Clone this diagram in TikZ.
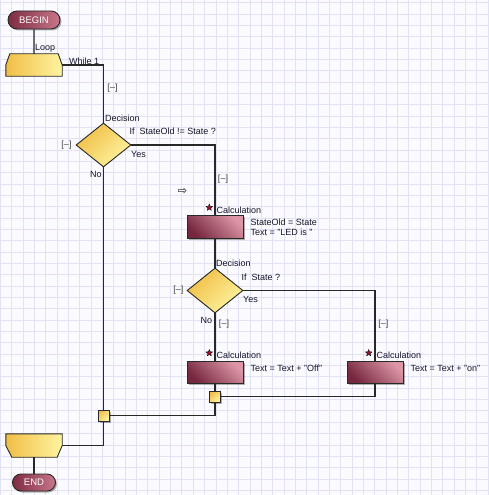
\documentclass[tikz,border=0pt]{standalone}
\usepackage{fontspec}
\setmainfont{Liberation Sans}
\newfontfamily\symfont{DejaVu Sans}
\usetikzlibrary{shapes.geometric,shapes.misc,shadows}
\definecolor{gridc}{RGB}{226,226,246}
\definecolor{paper}{RGB}{251,251,255}
\definecolor{wire}{RGB}{40,40,40}
\definecolor{txt}{RGB}{20,20,40}
\definecolor{calcdark}{RGB}{118,38,62}
\definecolor{calclight}{RGB}{220,150,166}
\definecolor{yeldark}{RGB}{240,190,70}
\definecolor{yellight}{RGB}{255,244,160}
\definecolor{pilldark}{RGB}{126,44,66}
\definecolor{pilllight}{RGB}{200,118,138}
\definecolor{starred}{RGB}{150,20,44}
\begin{document}
\begin{tikzpicture}[x=1pt,y=-1pt,
    shadowed/.style={drop shadow={shadow xshift=1.5pt,shadow yshift=-1.5pt,opacity=.3,fill=black}},
    yelfill/.style={top color=yellight,bottom color=yeldark,shading angle=-135},
    loopfill/.style={left color=yeldark,right color=yellight},
    calcfill/.style={top color=calclight,bottom color=calcdark,shading angle=-45},
    pill/.style={rounded rectangle,draw=wire,line width=.9pt,left color=pilldark,right color=pilllight,
      minimum height=18pt,inner sep=0pt,text=white,font=\fontsize{9.5}{10}\selectfont,shadowed},
    calcbox/.style={rectangle,draw=wire,line width=.9pt,calcfill,minimum width=56pt,minimum height=22pt,inner sep=0pt,shadowed},
    decide/.style={diamond,draw=wire,line width=.9pt,yelfill,minimum width=55pt,minimum height=44pt,inner sep=0pt},
    loopbox/.style={rectangle,minimum width=56pt,minimum height=22pt,inner sep=0pt},
    junction/.style={rectangle,draw=wire,line width=.9pt,yelfill,minimum size=11pt,inner sep=0pt,shadowed},
    lbl/.style={anchor=west,inner sep=0pt,text=txt,font=\fontsize{9}{10}\selectfont},
    fold/.style={inner sep=0pt,text=black!75,font=\fontsize{9}{10}\selectfont},
    starmark/.style={star,star points=5,star point ratio=2.3,fill=starred,draw=black,line width=.3pt,minimum size=7pt,inner sep=0pt},
    wired/.style={draw=wire,line width=1.1pt}]
  \useasboundingbox (0,0) rectangle (489,495);
  % background grid
  \fill[paper] (0,0) rectangle (489,495);
  \foreach \i in {0,...,43}
    \draw[gridc,line width=.9pt] (0.5+11.34*\i,0) -- ++(0,495);
  \foreach \i in {0,...,43}
    \draw[gridc,line width=.9pt] (0,2.7+11.34*\i) -- ++(489,0);

  % blocks
  \draw
    (34,20) node[pill,minimum width=52pt] (begin){BEGIN}
    (34,65) node[loopbox] (loop1){}
    (103.5,145) node[decide] (dec1){}
    (215,226.5) node[calcbox,minimum height=23pt] (calc1){}
    (215,290.5) node[decide,minimum width=56pt,minimum height=45pt] (dec2){}
    (215,372) node[calcbox] (calc2){}
    (375,372) node[calcbox] (calc3){}
    (215,396.5) node[junction] (jun2){}
    (103.5,415.5) node[junction] (jun1){}
    (34,445.5) node[loopbox,minimum height=23pt] (loop2){}
    (34,482.5) node[pill,minimum width=43pt,minimum height=17pt] (end){END};
  \shadedraw[loopfill,draw=wire,line width=.9pt]
    ([xshift=4pt]loop1.north west) -- ([xshift=-4pt]loop1.north east) -- (loop1.east)
    -- (loop1.south east) -- (loop1.south west) -- (loop1.west) -- cycle;
  \shadedraw[loopfill,draw=wire,line width=.9pt]
    (loop2.north west) -- (loop2.north east) -- (loop2.east)
    -- ([xshift=-5pt]loop2.south east) -- ([xshift=6pt]loop2.south west) -- (loop2.west) -- cycle;

  % connectors
  \begin{scope}[wired]
    \draw (begin) to (loop1);
    \draw (loop1.east) -| (dec1.north);
    \draw (dec1.east) -| (calc1.north);
    \draw (calc1) to (dec2);
    \draw (dec2.south) to (calc2.north);
    \draw (dec2.east) -| (calc3.north);
    \draw (calc2) to (jun2);
    \draw (calc3.south) |- (jun2.east);
    \draw (jun2.south) |- (jun1.east);
    \draw (dec1.south) to (jun1.north);
    \draw (jun1.south) |- (loop2.east);
    \draw (loop2) to (end);
  \end{scope}

  % labels
  \draw
    (35,48) node[lbl] (t0){Loop}
    (69,61.5) node[lbl] (t1){While 1}
    (112.5,88) node[fold] (f0){[--]}
    (105,118.5) node[lbl] (t2){Decision}
    (129.5,131.5) node[lbl] (t3){If\ \ StateOld != State ?}
    (66.5,145) node[fold] (f1){[--]}
    (131,154.5) node[lbl] (t4){Yes}
    (90,174.5) node[lbl] (t5){No}
    (223,179) node[fold] (f2){[--]}
    (182.5,191.5) node[inner sep=0pt,font=\symfont\fontsize{11}{12}\selectfont] (p0){⇨}
    (209.3,207.5) node[starmark] (s1){}
    (216.5,210) node[lbl] (t6){Calculation}
    (250.5,222) node[lbl] (t7){StateOld = State}
    (250.5,232) node[lbl] (t8){Text = "LED is "}
    (216,263.5) node[lbl] (t9){Decision}
    (241.5,277.5) node[lbl] (t10){If\ \ State ?}
    (178.3,290.3) node[fold] (f3){[--]}
    (243,299.5) node[lbl] (t11){Yes}
    (200.5,320.5) node[lbl] (t12){No}
    (224,324) node[fold] (f4){[--]}
    (383.3,324) node[fold] (f5){[--]}
    (209.3,353) node[starmark] (s2){}
    (216.5,355) node[lbl] (t13){Calculation}
    (250.5,368.5) node[lbl] (t14){Text = Text + "Off"}
    (368.7,353) node[starmark] (s3){}
    (376.5,355) node[lbl] (t15){Calculation}
    (410.5,368.5) node[lbl] (t16){Text = Text + "on"};
\end{tikzpicture}
\end{document}
